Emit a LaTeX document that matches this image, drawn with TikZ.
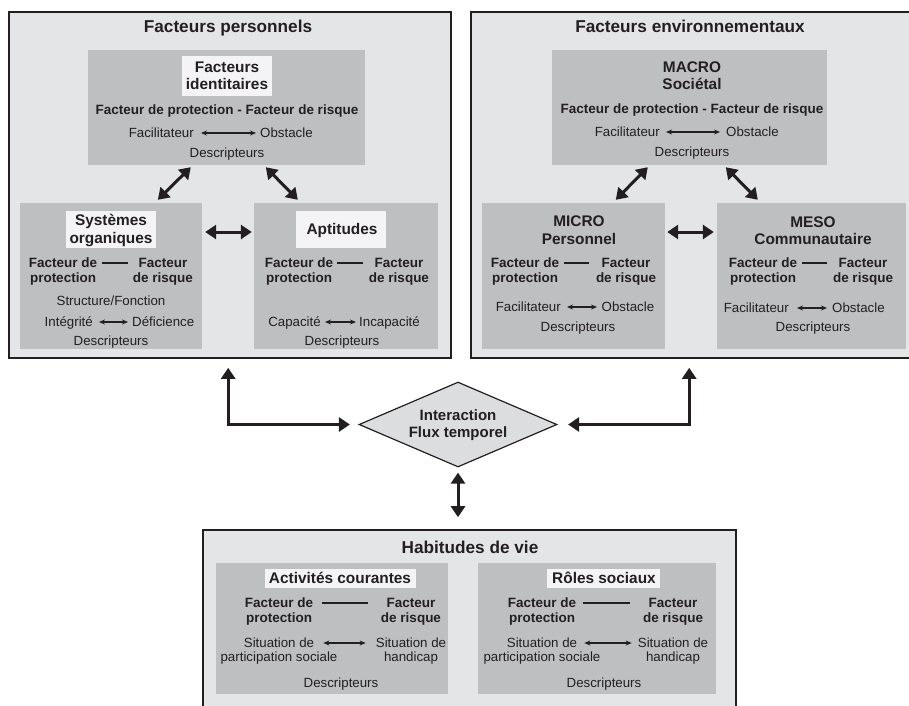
\documentclass[tikz,border=0pt]{standalone}
\usepackage{fontspec}
\setmainfont{Liberation Sans}
\usetikzlibrary{fit,shapes.geometric,arrows.meta}
\definecolor{gOuter}{HTML}{E4E5E7}
\definecolor{gInner}{HTML}{BEBFC1}
\definecolor{gWhite}{HTML}{F4F4F6}
\definecolor{gDia}{HTML}{DCDDDF}
\definecolor{ink}{HTML}{231F20}
\tikzset{
 outerbox/.style={draw=ink, line width=1.6pt, fill=gOuter, inner sep=0pt},
 innerbox/.style={fill=gInner, inner sep=0pt},
 whitebox/.style={fill=gWhite, inner sep=0pt},
 txt/.style={text=ink, inner sep=0pt, text depth=0pt},
 bigtitle/.style={txt, text height=12.4pt, font=\fontsize{17.2}{20}\selectfont\bfseries},
 boxtitle/.style={txt, text height=11.1pt, font=\fontsize{15.4}{18}\selectfont\bfseries},
 boldtxt/.style={txt, text height=9.7pt, font=\fontsize{13.5}{15}\selectfont\bfseries},
 regtxt/.style={txt, text height=9.6pt, font=\fontsize{13.3}{15}\selectfont},
 bigarrow/.style={draw=ink, line width=3pt, {Triangle[length=11pt,width=14pt]}-{Triangle[length=11pt,width=14pt]}},
 smallarrow/.style={draw=ink, line width=1.1pt, {Stealth[length=6pt,width=5pt]}-{Stealth[length=6pt,width=5pt]}},
 rulebar/.style={draw=ink, line width=1.4pt},
}
\begin{document}
\begin{tikzpicture}[x=1pt,y=-1pt]
\clip (0,0) rectangle (909,705);
% outer boxes
\node[outerbox, fit={(9,12)(451,358)}] (P) {};
\node[outerbox, fit={(471,12)(920,358)}] (E) {};
\node[outerbox, fit={(203,530)(736,712)}] (H) {};
% inner boxes
\node[innerbox, fit={(88,50)(365,165)}] (fi) {};
\node[whitebox, fit={(182,56)(272,96)}] (fiw) {};
\node[innerbox, fit={(20,203)(202,349)}] (sys) {};
\node[whitebox, fit={(66,211)(156,248)}] (sysw) {};
\node[innerbox, fit={(254,203)(438,349)}] (apt) {};
\node[whitebox, fit={(296,211)(386,248)}] (aptw) {};
\node[innerbox, fit={(552,50)(827,165)}] (macro) {};
\node[innerbox, fit={(482,203)(665,349)}] (micro) {};
\node[innerbox, fit={(717,203)(906,349)}] (meso) {};
\node[innerbox, fit={(216,563)(448,694)}] (act) {};
\node[whitebox, fit={(265,569)(416,588)}] (actw) {};
\node[innerbox, fit={(478,563)(716,694)}] (rol) {};
\node[whitebox, fit={(547,569)(660,588)}] (rolw) {};
% diamond
\node[diamond, draw=ink, line width=1.2pt, fill=gDia, minimum width=198pt, minimum height=85pt, inner sep=0pt] (dia) at (458,424.5) {};
\node[boxtitle, font=\fontsize{15}{18}\selectfont\bfseries] (dia1) at (458,415) {Interaction};
\node[boxtitle, font=\fontsize{15}{18}\selectfont\bfseries] (dia2) at (458,432) {Flux temporel};
% main titles
\node[bigtitle] (tP) at (228,26) {Facteurs personnels};
\node[bigtitle] (tE) at (690,26) {Facteurs environnementaux};
\node[bigtitle] (tH) at (470,547) {Habitudes de vie};
% Facteurs identitaires
\node[boxtitle] (fi1) at (227,67) {Facteurs};
\node[boxtitle] (fi2) at (227,84) {identitaires};
\node[boldtxt] (fi3) at (227,110) {Facteur de protection - Facteur de risque};
\node[regtxt, anchor=east] (fiF) at (194,133) {Facilitateur};
\node[regtxt, anchor=west] (fiO) at (260,133) {Obstacle};
\node[regtxt] (fiD) at (227,153) {Descripteurs};
% Systemes organiques
\node[boxtitle] (sy1) at (111,220) {Systèmes};
\node[boxtitle] (sy2) at (111,238) {organiques};
\node[boldtxt] (syFd) at (63,263) {Facteur de};
\node[boldtxt] (syP) at (63,278) {protection};
\node[boldtxt] (syFr) at (163,263) {Facteur};
\node[boldtxt] (syR) at (163,278) {de risque};
\node[regtxt] (syS) at (111,301) {Structure/Fonction};
\node[regtxt, anchor=east] (syI) at (93,322) {Intégrité};
\node[regtxt, anchor=west] (syDf) at (132,322) {Déficience};
\node[regtxt] (syD) at (111,341) {Descripteurs};
% Aptitudes
\node[boxtitle] (ap1) at (342,229) {Aptitudes};
\node[boldtxt] (apFd) at (299,263) {Facteur de};
\node[boldtxt] (apP) at (299,278) {protection};
\node[boldtxt] (apFr) at (399,263) {Facteur};
\node[boldtxt] (apR) at (399,278) {de risque};
\node[regtxt, anchor=east] (apC) at (321,322) {Capacité};
\node[regtxt, anchor=west] (apI) at (359,322) {Incapacité};
\node[regtxt] (apD) at (342,341) {Descripteurs};
% MACRO
\node[boxtitle] (ma1) at (692,67) {MACRO};
\node[boxtitle] (ma2) at (692,84) {Sociétal};
\node[boldtxt] (ma3) at (692,109) {Facteur de protection - Facteur de risque};
\node[regtxt, anchor=east] (maF) at (660,132) {Facilitateur};
\node[regtxt, anchor=west] (maO) at (726,132) {Obstacle};
\node[regtxt] (maD) at (692,152) {Descripteurs};
% MICRO
\node[boxtitle] (mi1) at (579,221) {MICRO};
\node[boxtitle] (mi2) at (579,239) {Personnel};
\node[boldtxt] (miFd) at (525,263) {Facteur de};
\node[boldtxt] (miP) at (525,278) {protection};
\node[boldtxt] (miFr) at (626,263) {Facteur};
\node[boldtxt] (miR) at (626,278) {de risque};
\node[regtxt, anchor=east] (miF) at (561,307) {Facilitateur};
\node[regtxt, anchor=west] (miO) at (601.5,307) {Obstacle};
\node[regtxt] (miD) at (578,327) {Descripteurs};
% MESO
\node[boxtitle] (me1) at (813,222) {MESO};
\node[boxtitle] (me2) at (813,239) {Communautaire};
\node[boldtxt] (meFd) at (763,263) {Facteur de};
\node[boldtxt] (meP) at (763,278) {protection};
\node[boldtxt] (meFr) at (863,263) {Facteur};
\node[boldtxt] (meR) at (863,278) {de risque};
\node[regtxt, anchor=east] (meF) at (789,308) {Facilitateur};
\node[regtxt, anchor=west] (meO) at (832,308) {Obstacle};
\node[regtxt] (meD) at (813,327) {Descripteurs};
% Activites courantes
\node[boxtitle] (ac1) at (340,578) {Activités courantes};
\node[boldtxt] (acFd) at (279,603) {Facteur de};
\node[boldtxt] (acP) at (279,618) {protection};
\node[boldtxt] (acFr) at (411,603) {Facteur};
\node[boldtxt] (acR) at (411,618) {de risque};
\node[regtxt] (acSL) at (279,643) {Situation de};
\node[regtxt] (acPS) at (279,657) {participation sociale};
\node[regtxt] (acSR) at (411,643) {Situation de};
\node[regtxt] (acHa) at (411,657) {handicap};
\node[regtxt] (acD) at (341,683) {Descripteurs};
% Roles sociaux
\node[boxtitle] (ro1) at (604,578) {Rôles sociaux};
\node[boldtxt] (roFd) at (542,603) {Facteur de};
\node[boldtxt] (roP) at (542,618) {protection};
\node[boldtxt] (roFr) at (673,603) {Facteur};
\node[boldtxt] (roR) at (673,618) {de risque};
\node[regtxt] (roSL) at (542,643) {Situation de};
\node[regtxt] (roPS) at (542,657) {participation sociale};
\node[regtxt] (roSR) at (673,643) {Situation de};
\node[regtxt] (roHa) at (673,657) {handicap};
\node[regtxt] (roD) at (604,683) {Descripteurs};
% small arrows
\draw[smallarrow, shorten <=7pt, shorten >=4pt] (fiF) -- (fiO);
\draw[smallarrow, shorten <=6pt, shorten >=4pt] (syI) -- (syDf);
\draw[smallarrow, shorten <=4pt, shorten >=3pt] (apC) -- (apI);
\draw[smallarrow, shorten <=6pt, shorten >=6pt] (maF) -- (maO);
\draw[smallarrow, shorten <=6pt, shorten >=4.5pt] (miF) -- (miO);
\draw[smallarrow, shorten <=8pt, shorten >=5pt] (meF) -- (meO);
\draw[smallarrow, shorten <=9pt, shorten >=10pt] (acSL) -- (acSR);
\draw[smallarrow, shorten <=7pt, shorten >=6pt] (roSL) -- (roSR);
% rule bars
\draw[rulebar, shorten <=4.9pt, shorten >=10.6pt] (syFd) -- (syFr);
\draw[rulebar, shorten <=3.9pt, shorten >=11.6pt] (apFd) -- (apFr);
\draw[rulebar, shorten <=4.9pt, shorten >=12.6pt] (miFd) -- (miFr);
\draw[rulebar, shorten <=4.9pt, shorten >=11.6pt] (meFd) -- (meFr);
\draw[rulebar, shorten <=8.9pt, shorten >=18.6pt] (acFd) -- (acFr);
\draw[rulebar, shorten <=6.9pt, shorten >=18.6pt] (roFd) -- (roFr);
% big arrows
\draw[bigarrow] ([xshift=103pt,yshift=-2pt]fi.south west) -- ([xshift=138pt,yshift=3pt]sys.north west);
\draw[bigarrow] ([xshift=178pt,yshift=-2pt]fi.south west) -- ([xshift=44pt,yshift=3pt]apt.north west);
\draw[bigarrow, shorten <=3pt, shorten >=2pt] ([yshift=44pt]sys.east) -- ([yshift=44pt]apt.west);
\draw[bigarrow] ([xshift=96pt,yshift=-2pt]macro.south west) -- ([xshift=134pt,yshift=3pt]micro.north west);
\draw[bigarrow] ([xshift=174pt,yshift=-2pt]macro.south west) -- ([xshift=41pt,yshift=3pt]meso.north west);
\draw[bigarrow, shorten <=2pt, shorten >=3pt] ([yshift=44pt]micro.east) -- ([yshift=44pt]meso.west);
\draw[bigarrow, shorten <=9pt, shorten >=8.5pt] ([xshift=220pt]P.south west) |- (dia.west);
\draw[bigarrow, shorten <=9pt, shorten >=10.5pt] ([xshift=219pt]E.south west) |- (dia.east);
\draw[bigarrow, shorten <=5pt, shorten >=12pt] (dia.south) -- (dia.south |- H.north);
\end{tikzpicture}
\end{document}
